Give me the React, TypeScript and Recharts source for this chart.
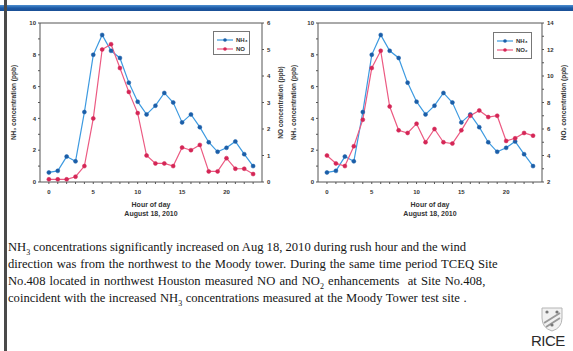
import { LineChart, Line, XAxis, YAxis, ReferenceLine, Legend } from 'recharts';

// hour of day, August 18, 2010
const hours = [0, 1, 2, 3, 4, 5, 6, 7, 8, 9, 10, 11, 12, 13, 14, 15, 16, 17, 18, 19, 20, 21, 22, 23];
const nh3Ppb = [0.6, 0.7, 1.6, 1.3, 4.4, 8.0, 9.25, 8.25, 7.8, 6.25, 5.05, 4.25, 4.8, 5.6, 5.0, 3.75, 4.25, 3.45, 2.5, 1.9, 2.15, 2.55, 1.75, 1.0];
const noPpb = [0.1, 0.1, 0.1, 0.2, 0.6, 2.4, 5.0, 5.2, 4.3, 3.4, 2.6, 1.0, 0.7, 0.7, 0.6, 1.3, 1.2, 1.4, 0.4, 0.4, 0.9, 0.5, 0.5, 0.3];
const no2Ppb = [4.0, 3.4, 3.2, 4.7, 6.7, 10.6, 11.9, 7.7, 5.9, 5.7, 6.4, 5.0, 6.0, 5.0, 4.9, 5.9, 7.0, 7.4, 6.9, 7.0, 5.1, 5.3, 5.7, 5.5];

const hourTicks = hours;
const nh3Ticks = [0, 1, 2, 3, 4, 5, 6, 7, 8, 9, 10];
const noTicks = [0, 1, 2, 3, 4, 5, 6];
const no2Ticks = [2, 3, 4, 5, 6, 7, 8, 9, 10, 11, 12, 13, 14];

const leftData = hours.map((h, i) => ({ hour: h, nh3: nh3Ppb[i], other: noPpb[i] }));
const rightData = hours.map((h, i) => ({ hour: h, nh3: nh3Ppb[i], other: no2Ppb[i] }));

const BLUE_LINE = '#3d9ae0';
const BLUE_DOT = '#1b5ea8';
const RED_LINE = '#ec5a82';
const RED_DOT = '#d42656';
const AXIS = '#555';
const chartFont = '"Liberation Sans", Arial, sans-serif';
const tickStyle = { fontSize: 6, fontWeight: 700, fill: '#333', fontFamily: chartFont };

function HourLabel({ viewBox }: any) {
  const { x = 0, y = 0, width = 0 } = viewBox ?? {};
  const cx = x + width / 2;
  return (
    <g fontFamily={chartFont} fontSize={7} fontWeight={700} fill="#333">
      <text x={cx} y={y + 24.5} textAnchor="middle">Hour of day</text>
      <text x={cx} y={y + 33.5} textAnchor="middle">August 18, 2010</text>
    </g>
  );
}

function SideTitle({ viewBox, text, dx }: any) {
  const { x = 0, y = 0, height = 0 } = viewBox ?? {};
  const cx = x + dx;
  const cy = y + height / 2;
  return (
    <text
      x={cx}
      y={cy}
      transform={`rotate(-90 ${cx} ${cy})`}
      textAnchor="middle"
      dominantBaseline="central"
      fontFamily={chartFont}
      fontSize={6.5}
      fontWeight={700}
      fill="#333"
    >
      {text}
    </text>
  );
}

function LegendBox({ payload, w, h }: any) {
  return (
    <div style={{ width: w, height: h, border: '1px solid #777', background: '#fff', boxSizing: 'border-box', paddingTop: 3 }}>
      {(payload ?? []).map((p: any) => (
        <div key={p.value} style={{ display: 'flex', alignItems: 'center', height: 9, marginLeft: 3 }}>
          <svg width={16} height={6}>
            <line x1={0} y1={3} x2={16} y2={3} stroke={p.color} strokeWidth={1.2} />
            <circle cx={8} cy={3} r={1.8} fill={p.color === BLUE_LINE ? BLUE_DOT : RED_DOT} />
          </svg>
          <span style={{ fontFamily: chartFont, fontSize: 6, fontWeight: 700, color: '#333', marginLeft: 3 }}>{p.value}</span>
        </div>
      ))}
    </div>
  );
}

function Panel({ data, width, leftAxisW, rightAxisW, marginLeft, marginRight, rightDomain, rightTicks, rightTitle, rightTitleDx, leftTitleDx, otherName, legendPos }: any) {
  const fmtHour = (v: number) => (v % 5 === 0 ? String(v) : '');
  const fmtEven = (v: number) => (v % 2 === 0 ? String(v) : '');
  return (
    <LineChart width={width} height={220} data={data} margin={{ top: 23, right: marginRight, bottom: 0, left: marginLeft }}>
      <XAxis
        dataKey="hour"
        type="number"
        domain={[-1, 24]}
        ticks={hourTicks}
        tickFormatter={fmtHour}
        interval={0}
        height={38}
        stroke={AXIS}
        tickSize={2}
        tickMargin={6}
        tick={tickStyle}
        label={<HourLabel />}
      />
      <YAxis
        yAxisId="left"
        domain={[0, 10]}
        ticks={nh3Ticks}
        tickFormatter={fmtEven}
        interval={0}
        width={leftAxisW}
        stroke={AXIS}
        tickSize={2}
        tickMargin={2}
        tick={tickStyle}
        label={<SideTitle text="NH₃ concentration (ppb)" dx={leftTitleDx} />}
      />
      <YAxis
        yAxisId="right"
        orientation="right"
        domain={rightDomain}
        ticks={rightTicks}
        tickFormatter={rightTicks.length > 8 ? fmtEven : undefined}
        interval={0}
        width={rightAxisW}
        stroke={AXIS}
        tickSize={2}
        tickMargin={3}
        tick={tickStyle}
        label={<SideTitle text={rightTitle} dx={rightTitleDx} />}
      />
      <ReferenceLine yAxisId="left" y={10} stroke={AXIS} />
      <Line
        yAxisId="left"
        dataKey="nh3"
        name="NH₃"
        stroke={BLUE_LINE}
        strokeWidth={1.2}
        dot={{ r: 2, fill: BLUE_DOT, stroke: BLUE_DOT, strokeWidth: 0.5 }}
        isAnimationActive={false}
      />
      <Line
        yAxisId="right"
        dataKey="other"
        name={otherName}
        stroke={RED_LINE}
        strokeWidth={1.2}
        dot={{ r: 2, fill: RED_DOT, stroke: RED_DOT, strokeWidth: 0.5 }}
        isAnimationActive={false}
      />
      <Legend
        layout="vertical"
        align="center"
        verticalAlign="middle"
        wrapperStyle={{ left: legendPos.left, top: legendPos.top, width: legendPos.w, height: legendPos.h }}
        content={<LegendBox w={legendPos.w} h={legendPos.h} />}
      />
    </LineChart>
  );
}

export default function App() {
  const serif = '"Liberation Serif", "Times New Roman", serif';
  const lineStyle = { position: 'absolute' as const, left: 8, whiteSpace: 'nowrap' as const, fontFamily: serif, fontSize: 12.6, color: '#151515', lineHeight: '17px' };
  return (
    <div style={{ position: 'absolute', left: 0, top: 0, width: 573, height: 351, background: '#fff', overflow: 'hidden' }}>
      <div style={{ position: 'absolute', left: 0, top: 5, width: 573, height: 6, background: 'linear-gradient(#4d8fd0, #1c5aa6 50%, #1a4f95)' }} />
      <div style={{ position: 'absolute', left: 4, top: 0, width: 3, height: 351, background: '#4a4a4a' }} />

      <div style={{ position: 'absolute', left: 0, top: 0 }}>
        <Panel
          data={leftData}
          width={290}
          marginLeft={5}
          leftAxisW={35}
          rightAxisW={25}
          marginRight={3}
          rightDomain={[0, 6]}
          rightTicks={noTicks}
          rightTitle="NO concentration (ppb)"
          rightTitleDx={18}
          leftTitleDx={8}
          otherName="NO"
          legendPos={{ left: 213, top: 31, w: 37, h: 24 }}
        />
      </div>
      <div style={{ position: 'absolute', left: 285, top: 0 }}>
        <Panel
          data={rightData}
          width={288}
          marginLeft={0}
          leftAxisW={33}
          rightAxisW={31}
          marginRight={0}
          rightDomain={[2, 14]}
          rightTicks={no2Ticks}
          rightTitle="NO₂ concentration (ppb)"
          rightTitleDx={21}
          leftTitleDx={8}
          otherName="NO₂"
          legendPos={{ left: 208, top: 32, w: 39, h: 27 }}
        />
      </div>

      <div style={{ ...lineStyle, top: 239 }}>NH<sub style={{ fontSize: 8 }}>3</sub> concentrations significantly increased on Aug 18, 2010 during rush hour and the wind</div>
      <div style={{ ...lineStyle, top: 256, wordSpacing: 0.8 }}>direction was from the northwest to the Moody tower. During the same time period TCEQ Site</div>
      <div style={{ ...lineStyle, top: 273, wordSpacing: 1 }}>No.408 located in northwest Houston measured NO and NO<sub style={{ fontSize: 8 }}>2</sub> enhancements&nbsp; at Site No.408,</div>
      <div style={{ ...lineStyle, top: 290, wordSpacing: 0.4 }}>coincident with the increased NH<sub style={{ fontSize: 8 }}>3</sub> concentrations measured at the Moody Tower test site .</div>

      <svg style={{ position: 'absolute', left: 540, top: 306 }} width={24} height={26}>
        <path d="M2 2 L22 2 L22 12 Q22 22 12 25 Q2 22 2 12 Z" fill="#f1f1f1" stroke="#b5b5b5" strokeWidth={1} />
        <path d="M4 17 L20 7 M6 21 L20 12" stroke="#9a9a9a" strokeWidth={2} />
        <circle cx={7} cy={6} r={1.6} fill="#777" />
        <circle cx={17} cy={6} r={1.6} fill="#777" />
        <circle cx={12} cy={19} r={1.6} fill="#777" />
      </svg>
      <div style={{ position: 'absolute', left: 531, top: 333, fontFamily: '"Liberation Sans", Arial, sans-serif', fontSize: 15, color: '#2a2a2a', letterSpacing: -0.5, lineHeight: '16px' }}>RICE</div>
    </div>
  );
}
